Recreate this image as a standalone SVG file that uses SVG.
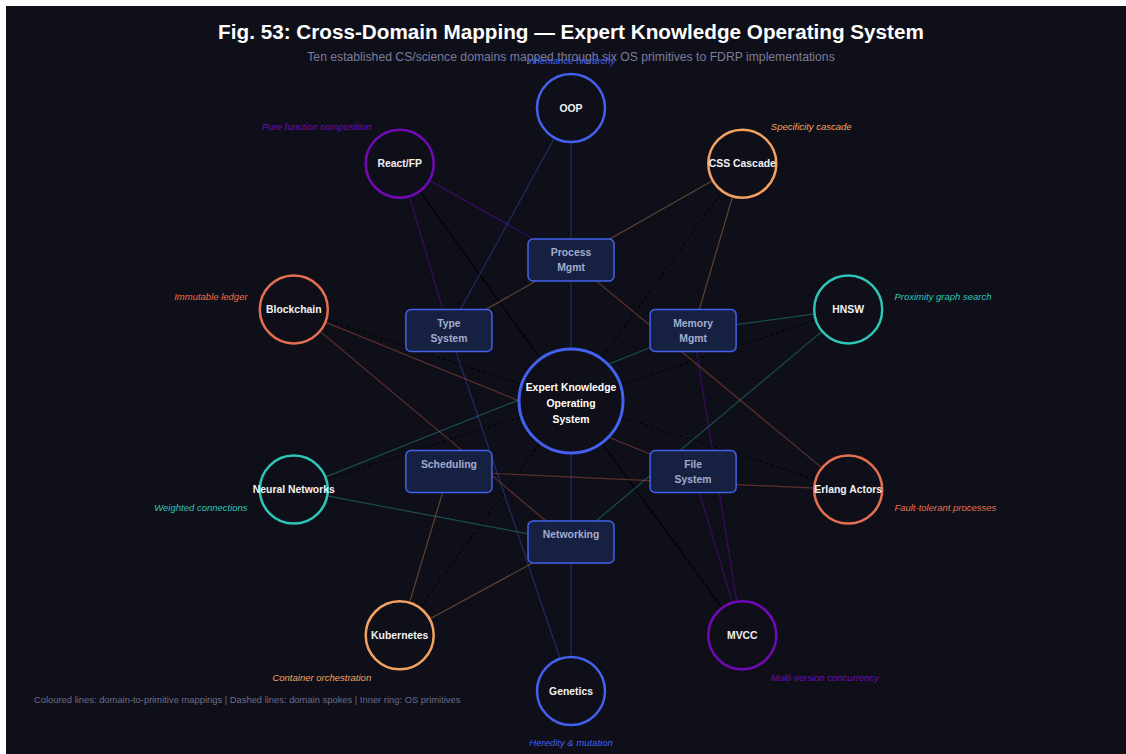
<svg xmlns="http://www.w3.org/2000/svg" width="1126" height="754" viewBox="0 0 1126 754">
<style>
.bg{fill:#0f0f19}
.title{font-family:"Liberation Sans",Arial,sans-serif;font-weight:bold;font-size:20.7px;fill:#ffffff;text-anchor:middle}
.sub{font-family:"Liberation Sans",Arial,sans-serif;font-size:12.2px;fill:#7c7c9c;text-anchor:middle}
.legend{font-family:"Liberation Sans",Arial,sans-serif;font-size:9.4px;fill:#6c6c8c}
.dom{fill:#0f0f19;stroke-width:2.5}
.dtext{font-family:"Liberation Sans",Arial,sans-serif;font-weight:bold;font-size:10.4px;fill:#f2f2f2;text-anchor:middle}
.lbl{font-family:"Liberation Sans",Arial,sans-serif;font-style:italic;font-size:9.5px}
.prim{fill:#162040;stroke:#4361ee;stroke-width:1.5}
.ptext{font-family:"Liberation Sans",Arial,sans-serif;font-weight:bold;font-size:10.4px;fill:#a3acd0;text-anchor:middle}
.ctext{font-family:"Liberation Sans",Arial,sans-serif;font-weight:bold;font-size:10.4px;fill:#ffffff;text-anchor:middle}
.m{stroke-width:1.2;fill:none;stroke-opacity:0.35}
.blue{stroke:#4361ee}
.purple{stroke:#7209b7;stroke-opacity:0.45}
.orange{stroke:#f4a261}
.teal{stroke:#2ec4b6}
.coral{stroke:#e76f51}
.spoke{stroke:#000000;stroke-width:1.2;stroke-opacity:0.85;fill:none}
.dash{stroke-dasharray:3 3}
</style>
<rect x="0" y="0" width="1126" height="754" fill="#ffffff"/>
<rect class="bg" x="6" y="6" width="1120" height="748"/>
<text class="title" x="571" y="39">Fig. 53: Cross-Domain Mapping — Expert Knowledge Operating System</text>
<text class="sub" x="571" y="61">Ten established CS/science domains mapped through six OS primitives to FDRP implementations</text>

<g id="connectors">
  <!-- spokes -->
  <line class="spoke" x1="571" y1="401" x2="399.7" y2="163.7"/>
  <line class="spoke" x1="571" y1="401" x2="742.3" y2="635.3"/>
  <line class="spoke dash" x1="571" y1="401" x2="742.3" y2="163.7"/>
  <line class="spoke dash" x1="571" y1="401" x2="848.2" y2="309.4"/>
  <line class="spoke dash" x1="571" y1="401" x2="848.2" y2="489.6"/>
  <line class="spoke dash" x1="571" y1="401" x2="399.7" y2="635.3"/>
  <line class="spoke dash" x1="571" y1="401" x2="293.8" y2="489.6"/>
  <line class="spoke dash" x1="571" y1="401" x2="293.8" y2="309.4"/>
  <!-- OOP -->
  <line class="m blue" x1="571" y1="108" x2="571" y2="542"/>
  <line class="m blue" x1="571" y1="108" x2="448.9" y2="330.5"/>
  <!-- Genetics -->
  <line class="m blue" x1="571" y1="691" x2="571" y2="542"/>
  <line class="m blue" x1="571" y1="691" x2="448.9" y2="330.5"/>
  <!-- React -->
  <line class="m purple" x1="399.7" y1="163.7" x2="571" y2="260"/>
  <line class="m purple" x1="399.7" y1="163.7" x2="448.9" y2="330.5"/>
  <!-- MVCC -->
  <line class="m purple" x1="742.3" y1="635.3" x2="693.1" y2="330.5"/>
  <line class="m purple" x1="742.3" y1="635.3" x2="693.1" y2="471.5"/>
  <!-- CSS -->
  <line class="m orange" x1="742.3" y1="163.7" x2="448.9" y2="330.5"/>
  <line class="m orange" x1="742.3" y1="163.7" x2="693.1" y2="330.5"/>
  <!-- Kubernetes -->
  <line class="m orange" x1="399.7" y1="635.3" x2="448.9" y2="471.5"/>
  <line class="m orange" x1="399.7" y1="635.3" x2="571" y2="542"/>
  <!-- HNSW -->
  <line class="m teal" x1="848.2" y1="309.4" x2="693.1" y2="330.5"/>
  <line class="m teal" x1="848.2" y1="309.4" x2="571" y2="542"/>
  <!-- Neural -->
  <line class="m teal" x1="293.8" y1="489.6" x2="693.1" y2="330.5"/>
  <line class="m teal" x1="293.8" y1="489.6" x2="571" y2="542"/>
  <!-- Erlang -->
  <line class="m coral" x1="848.2" y1="489.6" x2="571" y2="260"/>
  <line class="m coral" x1="848.2" y1="489.6" x2="448.9" y2="471.5"/>
  <!-- Blockchain -->
  <line class="m coral" x1="293.8" y1="309.4" x2="693.1" y2="471.5"/>
  <line class="m coral" x1="293.8" y1="309.4" x2="571" y2="542"/>
</g>

<g id="prim-process"><rect class="prim" x="528" y="239" width="86" height="42" rx="5"/><text class="ptext" x="571" y="256">Process</text><text class="ptext" x="571" y="271">Mgmt</text></g>
<g id="prim-memory"><rect class="prim" x="650.1" y="309.5" width="86" height="42" rx="5"/><text class="ptext" x="693.1" y="326.5">Memory</text><text class="ptext" x="693.1" y="341.5">Mgmt</text></g>
<g id="prim-file"><rect class="prim" x="650.1" y="450.5" width="86" height="42" rx="5"/><text class="ptext" x="693.1" y="467.5">File</text><text class="ptext" x="693.1" y="482.5">System</text></g>
<g id="prim-networking"><rect class="prim" x="528" y="521" width="86" height="42" rx="5"/><text class="ptext" x="571" y="538">Networking</text></g>
<g id="prim-scheduling"><rect class="prim" x="405.9" y="450.5" width="86" height="42" rx="5"/><text class="ptext" x="448.9" y="467.5">Scheduling</text></g>
<g id="prim-type"><rect class="prim" x="405.9" y="309.5" width="86" height="42" rx="5"/><text class="ptext" x="448.9" y="326.5">Type</text><text class="ptext" x="448.9" y="341.5">System</text></g>

<g id="center"><circle cx="571" cy="401" r="52" fill="#0f0f19" stroke="#4361ee" stroke-width="3"/><text class="ctext" x="571" y="390.5">Expert Knowledge</text><text class="ctext" x="571" y="406.5">Operating</text><text class="ctext" x="571" y="422.5">System</text></g>

<g id="d-oop"><circle class="dom" cx="571" cy="108" r="34" stroke="#4361ee"/><text class="dtext" x="571" y="111.7">OOP</text><text class="lbl" x="571" y="64" text-anchor="middle" fill="#4361ee">Inheritance hierarchy</text></g>
<g id="d-css"><circle class="dom" cx="742.3" cy="163.7" r="34" stroke="#f4a261"/><text class="dtext" x="742.3" y="167.4">CSS Cascade</text><text class="lbl" x="770.8" y="130" fill="#f4a261">Specificity cascade</text></g>
<g id="d-hnsw"><circle class="dom" cx="848.2" cy="309.4" r="34" stroke="#2ec4b6"/><text class="dtext" x="848.2" y="313.1">HNSW</text><text class="lbl" x="894.4" y="300" fill="#2ec4b6">Proximity graph search</text></g>
<g id="d-erlang"><circle class="dom" cx="848.2" cy="489.6" r="34" stroke="#e76f51"/><text class="dtext" x="848.2" y="493.3">Erlang Actors</text><text class="lbl" x="894.4" y="511" fill="#e76f51">Fault-tolerant processes</text></g>
<g id="d-mvcc"><circle class="dom" cx="742.3" cy="635.3" r="34" stroke="#7209b7"/><text class="dtext" x="742.3" y="639">MVCC</text><text class="lbl" x="770.8" y="681" fill="#7209b7">Multi-version concurrency</text></g>
<g id="d-genetics"><circle class="dom" cx="571" cy="691" r="34" stroke="#4361ee"/><text class="dtext" x="571" y="694.7">Genetics</text><text class="lbl" x="571" y="746" text-anchor="middle" fill="#4361ee">Heredity &amp; mutation</text></g>
<g id="d-kubernetes"><circle class="dom" cx="399.7" cy="635.3" r="34" stroke="#f4a261"/><text class="dtext" x="399.7" y="639">Kubernetes</text><text class="lbl" x="371.2" y="681" text-anchor="end" fill="#f4a261">Container orchestration</text></g>
<g id="d-neural"><circle class="dom" cx="293.8" cy="489.6" r="34" stroke="#2ec4b6"/><text class="dtext" x="293.8" y="493.3">Neural Networks</text><text class="lbl" x="247.6" y="511" text-anchor="end" fill="#2ec4b6">Weighted connections</text></g>
<g id="d-blockchain"><circle class="dom" cx="293.8" cy="309.4" r="34" stroke="#e76f51"/><text class="dtext" x="293.8" y="313.1">Blockchain</text><text class="lbl" x="247.6" y="300" text-anchor="end" fill="#e76f51">Immutable ledger</text></g>
<g id="d-react"><circle class="dom" cx="399.7" cy="163.7" r="34" stroke="#7209b7"/><text class="dtext" x="399.7" y="167.4">React/FP</text><text class="lbl" x="371.2" y="130" text-anchor="end" fill="#7209b7">Pure function composition</text></g>

<text class="legend" x="34" y="703">Coloured lines: domain-to-primitive mappings | Dashed lines: domain spokes | Inner ring: OS primitives</text>
</svg>
